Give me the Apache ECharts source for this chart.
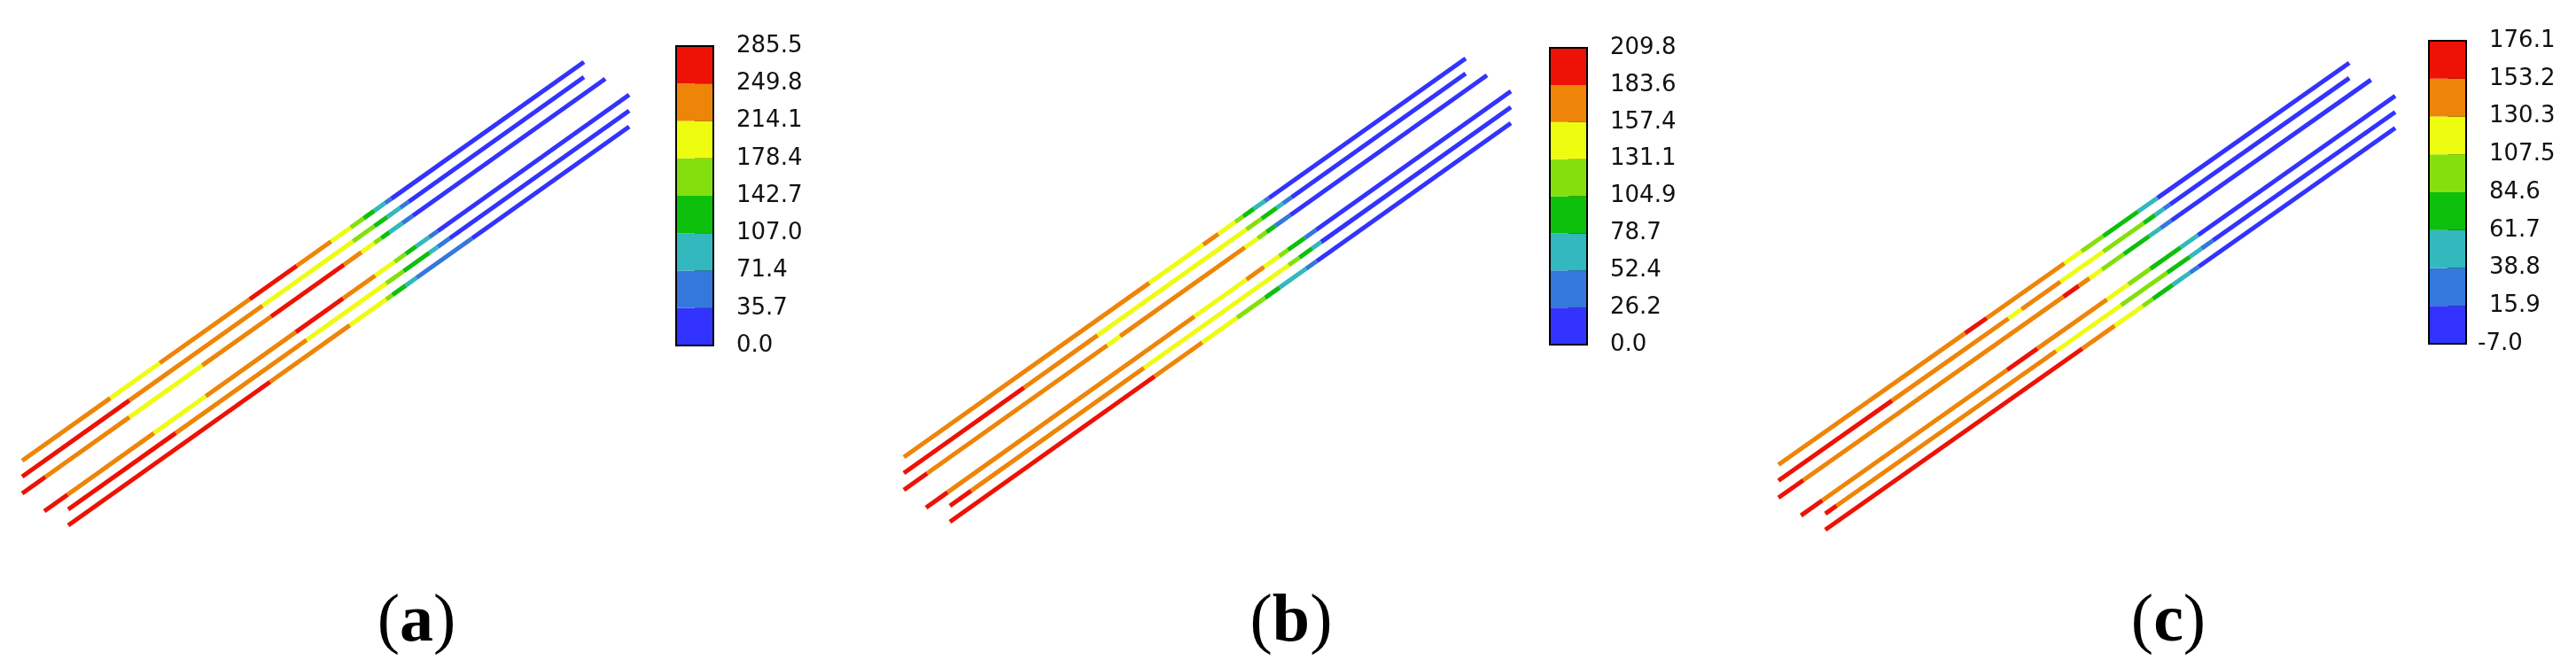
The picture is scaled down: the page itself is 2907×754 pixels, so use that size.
<!DOCTYPE html>
<html><head><meta charset="utf-8">
<script src="https://cdn.jsdelivr.net/npm/echarts@6/dist/echarts.min.js"></script>
<style>html,body{margin:0;padding:0;background:#fff}#chart{width:2907px;height:754px}</style>
</head><body><div id="chart"></div>
<script>
// ---------- data ----------
const panelLetters = ['a', 'b', 'c'];
const legendTicksA = ['0.0', '35.7', '71.4', '107.0', '142.7', '178.4', '214.1', '249.8', '285.5'];
const legendTicksB = ['0.0', '26.2', '52.4', '78.7', '104.9', '131.1', '157.4', '183.6', '209.8'];
const legendTicksC = ['-7.0', '15.9', '38.8', '61.7', '84.6', '107.5', '130.3', '153.2', '176.1'];
const bandColors = ['#3333FF', '#3478DC', '#33B8BE', '#0CC00C', '#84E00C', '#EEFC10', '#EE8508', '#EE1105'];

// line geometry (model units, 0..100), bottom-left start -> top-right end
const lineStartX = [0, 0, 0, 3.65, 7.59, 7.59];
const lineStartY = [13.96, 10.52, 6.88, 3.06, 3.44, 0];
const lineEndX = [92.55, 92.55, 96.06, 100, 100, 100];
const lineEndY = [100, 96.75, 96.37, 92.93, 89.48, 86.04];

// value runs along each line: [fraction where run ends, value]
const runsA = [
  [[0.157,232],[0.245,196],[0.405,232],[0.489,268],[0.550,232],[0.585,196],[0.608,160],[0.627,125],[0.646,89],[0.657,54],[1,18]],
  [[0.191,268],[0.428,232],[0.589,196],[0.627,160],[0.650,125],[0.673,89],[0.688,54],[1,18]],
  [[0.04,268],[0.184,232],[0.309,196],[0.427,232],[0.552,268],[0.582,232],[0.604,196],[0.616,160],[0.630,125],[0.652,89],[0.670,54],[1,18]],
  [[0.04,268],[0.1875,232],[0.276,196],[0.43,232],[0.511,268],[0.566,232],[0.599,196],[0.618,160],[0.636,125],[0.658,89],[0.673,54],[1,18]],
  [[0.192,268],[0.425,232],[0.567,196],[0.598,160],[0.644,125],[0.659,89],[0.68,54],[1,18]],
  [[0.36,268],[0.502,232],[0.567,196],[0.578,160],[0.602,125],[0.621,89],[0.72,54],[1,18]]
];
const runsB = [
  [[0.437,170],[0.533,144],[0.56,170],[0.59,144],[0.604,118],[0.623,92],[0.642,66],[0.65,39],[1,13]],
  [[0.214,197],[0.345,170],[0.61,144],[0.637,118],[0.664,92],[0.675,66],[0.69,39],[1,13]],
  [[0.04,197],[0.349,170],[0.371,144],[0.585,170],[0.607,144],[0.622,118],[0.637,92],[0.663,39],[1,13]],
  [[0.037,197],[0.459,170],[0.548,144],[0.578,170],[0.604,144],[0.619,118],[0.648,92],[0.667,39],[1,13]],
  [[0.038,197],[0.346,170],[0.604,144],[0.623,118],[0.646,92],[0.662,66],[1,13]],
  [[0.365,197],[0.45,170],[0.512,144],[0.562,118],[0.588,92],[0.635,66],[0.654,39],[1,13]]
];
const runsC = [
  [[0.327,142],[0.365,165],[0.501,142],[0.531,119],[0.569,96],[0.63,73],[0.664,50],[1,4]],
  [[0.199,165],[0.403,142],[0.426,119],[0.494,142],[0.569,119],[0.64,96],[0.66,73],[0.675,50],[0.686,27],[1,4]],
  [[0.042,165],[0.481,142],[0.507,165],[0.525,142],[0.546,119],[0.583,96],[0.626,73],[0.645,50],[0.663,27],[1,4]],
  [[0.036,165],[0.347,142],[0.398,165],[0.515,142],[0.551,119],[0.588,96],[0.639,73],[0.668,50],[1,4]],
  [[0.02,165],[0.405,142],[0.519,119],[0.6,96],[0.64,73],[0.66,50],[0.68,27],[1,4]],
  [[0.451,165],[0.508,142],[0.557,119],[0.575,96],[0.61,73],[0.64,50],[0.655,27],[1,4]]
];

// ---------- build ----------
const allRuns = [runsA, runsB, runsC];
const allTicks = [legendTicksA, legendTicksB, legendTicksC];
const plotGrids = [
  {left: 25, top: 70, width: 685, height: 523},
  {left: 1020, top: 66, width: 685, height: 523},
  {left: 2007, top: 71, width: 696, height: 527}
];
const barGrids = [
  {left: 763, top: 52, width: 42, height: 338},
  {left: 1749, top: 54, width: 42, height: 335},
  {left: 2741, top: 46, width: 42, height: 342}
];
const labelCenters = [470, 1457, 2447];

function colorFor(v, ticks) {
  const n = ticks.map(Number);
  for (let i = 0; i < 8; i++) if (v < n[i + 1]) return bandColors[i];
  return bandColors[7];
}

const grid = [], xAxis = [], yAxis = [], series = [];
plotGrids.forEach((g, p) => {
  grid.push(Object.assign({containLabel: false}, g));
  xAxis.push({type: 'value', gridIndex: p, min: 0, max: 100, show: false});
  yAxis.push({type: 'value', gridIndex: p, min: 0, max: 100, show: false});
  const data = [];
  allRuns[p].forEach((runs, i) => {
    const x0 = lineStartX[i], y0 = lineStartY[i], x1 = lineEndX[i], y1 = lineEndY[i];
    let prev = 0;
    runs.forEach(([t, v]) => {
      data.push({
        coords: [[x0 + (x1 - x0) * prev, y0 + (y1 - y0) * prev], [x0 + (x1 - x0) * t, y0 + (y1 - y0) * t]],
        value: v,
        lineStyle: {color: colorFor(v, allTicks[p])}
      });
      prev = t;
    });
  });
  series.push({
    type: 'lines', coordinateSystem: 'cartesian2d', xAxisIndex: p, yAxisIndex: p,
    polyline: false, silent: true, animation: false,
    lineStyle: {width: 5, opacity: 1, cap: 'butt', curveness: 0},
    data
  });
});
barGrids.forEach((g, p) => {
  const gi = 3 + p;
  grid.push(Object.assign({show: true, borderColor: '#000', borderWidth: 2, backgroundColor: 'transparent', z: 10}, g));
  xAxis.push({type: 'category', gridIndex: gi, data: ['c'], show: false});
  const ticks = allTicks[p];
  yAxis.push({
    type: 'value', gridIndex: gi, min: 0, max: 8, interval: 1, position: 'right',
    axisLine: {show: false}, splitLine: {show: false},
    axisTick: {show: true, inside: true, length: 21, lineStyle: {color: '#000', width: 2}},
    axisLabel: {
      formatter: v => (ticks[v].charAt(0) === '-' ? '{neg|' + ticks[v] + '}' : ticks[v]),
      color: '#111', fontSize: 26, fontFamily: 'DejaVu Sans', margin: 26,
      rich: {neg: {fontSize: 26, fontFamily: 'DejaVu Sans', color: '#111', padding: [0, 0, 0, -13]}}
    }
  });
  bandColors.forEach((c, k) => {
    series.push({
      type: 'bar', xAxisIndex: gi, yAxisIndex: gi, stack: 'cb' + p, data: [1],
      barWidth: '100%', itemStyle: {color: c}, silent: true, animation: false
    });
  });
});

const graphic = panelLetters.map((L, p) => ({
  type: 'text', x: labelCenters[p], y: 703,
  style: {
    text: '{p|(}{b|' + L + '}{p|)}', align: 'center', verticalAlign: 'middle',
    rich: {
      p: {fontFamily: 'Liberation Serif', fontSize: 76, fill: '#000'},
      b: {fontFamily: 'Liberation Serif', fontSize: 76, fontWeight: 'bold', fill: '#000'}
    }
  }
}));

const chart = echarts.init(document.getElementById('chart'), null, {renderer: 'canvas'});
chart.setOption({backgroundColor: '#fff', animation: false, grid, xAxis, yAxis, series, graphic});
</script></body></html>
